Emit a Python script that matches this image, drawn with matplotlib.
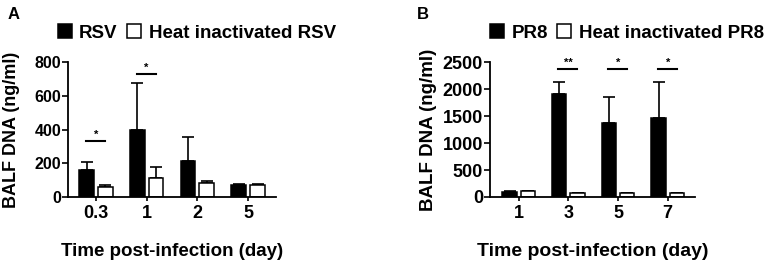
import matplotlib.pyplot as plt
from matplotlib.patches import Patch
import numpy as np

plt.rcParams['font.family'] = ['Liberation Sans', 'DejaVu Sans']
plt.rcParams['font.weight'] = 'bold'

# panel A - RSV
rsv_days = ['0.3', '1', '2', '5']
rsv_live = [158, 400, 213, 73]
rsv_live_err = [49, 278, 143, 6]
rsv_heat = [59, 115, 83, 73]
rsv_heat_err = [14, 63, 12, 7]
rsv_stars = ['*', '*', '', '']
rsv_star_y = [332, 731, 0, 0]

# panel B - PR8
pr8_days = ['1', '3', '5', '7']
pr8_live = [101, 1906, 1366, 1455]
pr8_live_err = [8, 225, 495, 669]
pr8_heat = [110, 75, 75, 75]
pr8_heat_err = [5, 6, 6, 6]
pr8_stars = ['', '**', '*', '*']
pr8_star_y = [0, 2368, 2368, 2368]

fig = plt.figure(figsize=(7.65, 2.64), dpi=100)
axA = fig.add_axes([0.0889, 0.2538, 0.272, 0.511])
axB = fig.add_axes([0.6405, 0.2538, 0.268, 0.511])

w = 0.29
off = 0.185


def draw(ax, days, live, live_err, heat, heat_err, stars, star_y, ymax, step,
         names, ytick_fs, xtick_fs, lab_fs, ylim_x, leg_x):
    x = np.arange(len(days))
    ax.bar(x - off, live, w, color='black', edgecolor='black', linewidth=1.1, zorder=2)
    ax.bar(x + off, heat, w, color='white', edgecolor='black', linewidth=1.1, zorder=2)
    ax.errorbar(x - off, live, yerr=[np.zeros(len(x)), live_err], fmt='none',
                ecolor='black', elinewidth=1.2, capsize=4, capthick=1.2, zorder=1)
    ax.errorbar(x + off, heat, yerr=[np.zeros(len(x)), heat_err], fmt='none',
                ecolor='black', elinewidth=1.2, capsize=4, capthick=1.2, zorder=1)
    for i, s in enumerate(stars):
        if s:
            ax.plot([x[i] - 0.2, x[i] + 0.18], [star_y[i], star_y[i]], color='black', lw=1.5)
            ax.text(x[i], star_y[i] + ymax * 0.01, s, ha='center', va='bottom',
                    fontsize=8, fontweight='bold')
    ax.set_ylim(0, ymax)
    ax.set_xlim(*ylim_x)
    ax.set_yticks(np.arange(0, ymax + 1, step))
    ax.set_xticks(x)
    ax.set_xticklabels(days, fontsize=xtick_fs, fontweight='bold')
    ax.tick_params(axis='y', labelsize=ytick_fs, width=1.2, length=4, pad=1)
    ax.tick_params(axis='x', width=1.2, length=3, pad=3)
    for sp in ['top', 'right']:
        ax.spines[sp].set_visible(False)
    for sp in ['left', 'bottom']:
        ax.spines[sp].set_linewidth(1.3)
    ax.set_ylabel('BALF DNA (ng/ml)', fontsize=lab_fs, fontweight='bold')
    ax.set_xlabel('Time post-infection (day)', fontsize=lab_fs + 0.5,
                  fontweight='bold', labelpad=15)
    handles = [Patch(facecolor='black', edgecolor='black', linewidth=1.1, label=names[0]),
               Patch(facecolor='white', edgecolor='black', linewidth=1.1, label=names[1])]
    ax.legend(handles=handles, loc='lower left', bbox_to_anchor=(leg_x, 1.15), ncol=2,
              frameon=False, handlelength=0.75, handleheight=0.75, handletextpad=0.4,
              columnspacing=0.5, borderaxespad=0, borderpad=0,
              prop={'size': 13.5, 'weight': 'bold'})


draw(axA, rsv_days, rsv_live, rsv_live_err, rsv_heat, rsv_heat_err, rsv_stars, rsv_star_y,
     800, 200, ['RSV', 'Heat inactivated RSV'], 11.5, 13, 13, (-0.55, 3.55), -0.05)
draw(axB, pr8_days, pr8_live, pr8_live_err, pr8_heat, pr8_heat_err, pr8_stars, pr8_star_y,
     2500, 500, ['PR8', 'Heat inactivated PR8'], 13, 13, 13.5, (-0.58, 3.55), 0.0)

axA.yaxis.set_label_coords(-0.23, 0.5)
axB.yaxis.set_label_coords(-0.26, 0.5)

fig.text(0.010, 0.975, 'A', fontsize=12, fontweight='bold', va='top')
fig.text(0.545, 0.975, 'B', fontsize=12, fontweight='bold', va='top')

fig.savefig('out.png', dpi=100)
